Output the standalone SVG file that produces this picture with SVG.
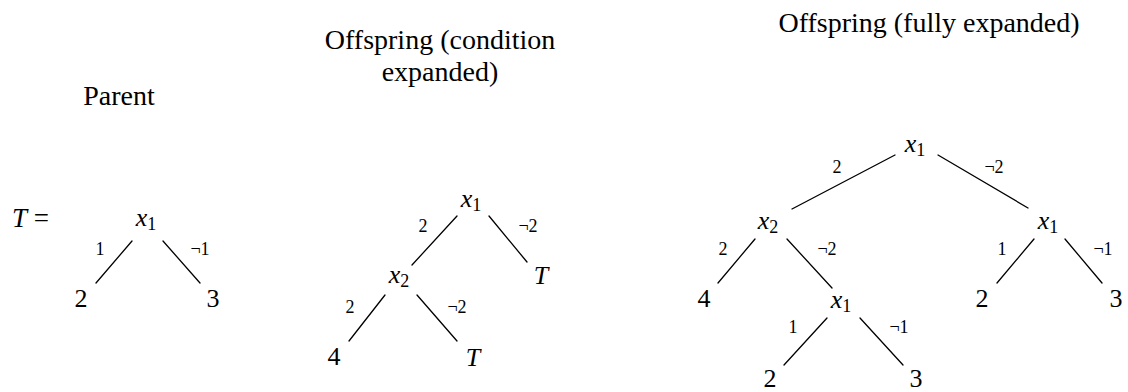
<svg xmlns="http://www.w3.org/2000/svg" width="1128" height="392" viewBox="0 0 1128 392">
<style>
.t{font-family:'Liberation Serif',serif;font-size:28px;text-anchor:middle;fill:#000}
.n{font-family:'Liberation Serif',serif;font-size:26px;text-anchor:middle;fill:#000}
.e{font-family:'Liberation Serif',serif;font-size:18px;text-anchor:middle;fill:#000}
.v{font-style:italic}
.s{font-size:18px}
.c line{stroke:#000;stroke-width:1.3;stroke-linecap:round}
</style>
<rect width="1128" height="392" fill="#fff"/>
<g id="titles">
<text class="t" style="font-family:'Liberation Serif'" x="119" y="105">Parent</text>
<text class="t" style="font-family:'Liberation Serif'" x="440" y="49">Offspring (condition</text>
<text class="t" style="font-family:'Liberation Serif'" x="440" y="81">expanded)</text>
<text class="t" style="font-family:'Liberation Serif'" x="929" y="32">Offspring (fully expanded)</text>
</g>
<g id="connectors" class="c">
<line x1="132" y1="241" x2="96" y2="283"/>
<line x1="163" y1="241" x2="200" y2="283"/>
<line x1="457" y1="216" x2="412" y2="265"/>
<line x1="489" y1="216" x2="527" y2="262"/>
<line x1="385" y1="295" x2="349" y2="341"/>
<line x1="417" y1="295" x2="457" y2="341"/>
<line x1="895" y1="155" x2="792" y2="209"/>
<line x1="938" y1="155" x2="1028" y2="208"/>
<line x1="755" y1="239" x2="718" y2="283"/>
<line x1="787" y1="239" x2="832" y2="288"/>
<line x1="1034" y1="239" x2="997" y2="283"/>
<line x1="1065" y1="239" x2="1102" y2="283"/>
<line x1="827" y1="318" x2="784" y2="365"/>
<line x1="860" y1="318" x2="903" y2="365"/>
</g>
<g id="edge-labels">
<text class="e" style="font-family:'Liberation Serif'" x="100" y="255">1</text>
<text class="e" style="font-family:'Liberation Serif'" x="200" y="255">¬1</text>
<text class="e" style="font-family:'Liberation Serif'" x="423" y="232">2</text>
<text class="e" style="font-family:'Liberation Serif'" x="528" y="232">¬2</text>
<text class="e" style="font-family:'Liberation Serif'" x="350" y="313">2</text>
<text class="e" style="font-family:'Liberation Serif'" x="457" y="313">¬2</text>
<text class="e" style="font-family:'Liberation Serif'" x="837" y="173">2</text>
<text class="e" style="font-family:'Liberation Serif'" x="994" y="173">¬2</text>
<text class="e" style="font-family:'Liberation Serif'" x="723" y="255">2</text>
<text class="e" style="font-family:'Liberation Serif'" x="827" y="255">¬2</text>
<text class="e" style="font-family:'Liberation Serif'" x="1002" y="255">1</text>
<text class="e" style="font-family:'Liberation Serif'" x="1103" y="255">¬1</text>
<text class="e" style="font-family:'Liberation Serif'" x="793" y="333">1</text>
<text class="e" style="font-family:'Liberation Serif'" x="899" y="333">¬1</text>
</g>
<g id="parent-T-eq"><text style="font-family:'Liberation Serif';font-size:27px" x="12" y="227"><tspan class="v">T</tspan> =</text></g>
<g id="p-root"><text class="n" style="font-family:'Liberation Serif'" x="146" y="226"><tspan class="v">x</tspan><tspan class="s" dy="4">1</tspan></text></g>
<g id="p-leaf2"><text class="n" style="font-family:'Liberation Serif'" x="81" y="307">2</text></g>
<g id="p-leaf3"><text class="n" style="font-family:'Liberation Serif'" x="213" y="307">3</text></g>
<g id="c-root"><text class="n" style="font-family:'Liberation Serif'" x="471" y="207"><tspan class="v">x</tspan><tspan class="s" dy="4">1</tspan></text></g>
<g id="c-x2"><text class="n" style="font-family:'Liberation Serif'" x="399" y="283"><tspan class="v">x</tspan><tspan class="s" dy="4">2</tspan></text></g>
<g id="c-T1"><text class="n v" style="font-family:'Liberation Serif'" x="541" y="284">T</text></g>
<g id="c-leaf4"><text class="n" style="font-family:'Liberation Serif'" x="334" y="365">4</text></g>
<g id="c-T2"><text class="n v" style="font-family:'Liberation Serif'" x="473" y="366">T</text></g>
<g id="f-root"><text class="n" style="font-family:'Liberation Serif'" x="915" y="152"><tspan class="v">x</tspan><tspan class="s" dy="4">1</tspan></text></g>
<g id="f-x2"><text class="n" style="font-family:'Liberation Serif'" x="768" y="229"><tspan class="v">x</tspan><tspan class="s" dy="4">2</tspan></text></g>
<g id="f-x1r"><text class="n" style="font-family:'Liberation Serif'" x="1048" y="229"><tspan class="v">x</tspan><tspan class="s" dy="4">1</tspan></text></g>
<g id="f-leaf4"><text class="n" style="font-family:'Liberation Serif'" x="704" y="307">4</text></g>
<g id="f-x1m"><text class="n" style="font-family:'Liberation Serif'" x="841" y="308"><tspan class="v">x</tspan><tspan class="s" dy="4">1</tspan></text></g>
<g id="f-leaf2r"><text class="n" style="font-family:'Liberation Serif'" x="982" y="307">2</text></g>
<g id="f-leaf3r"><text class="n" style="font-family:'Liberation Serif'" x="1116" y="307">3</text></g>
<g id="f-leaf2m"><text class="n" style="font-family:'Liberation Serif'" x="770" y="387">2</text></g>
<g id="f-leaf3m"><text class="n" style="font-family:'Liberation Serif'" x="916" y="387">3</text></g>
</svg>
